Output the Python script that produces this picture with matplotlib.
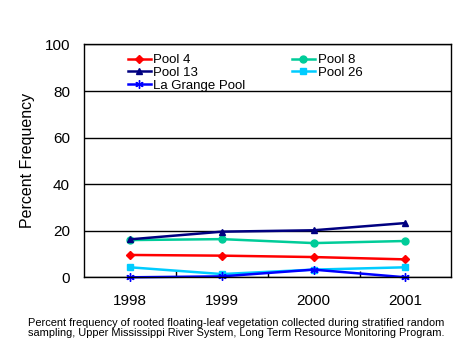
import matplotlib
matplotlib.use("Agg")
import matplotlib.pyplot as plt

years = ["1998", "1999", "2000", "2001"]
pool4 = [9.6, 9.3, 8.7, 7.7]
pool8 = [16.0, 16.4, 14.7, 15.6]
pool13 = [16.3, 19.6, 20.2, 23.3]
pool26 = [4.3, 1.4, 3.3, 4.3]
lagrange = [0.0, 0.4, 3.3, 0.0]
yticks = [0, 20, 40, 60, 80, 100]
caption = ("Percent frequency of rooted floating-leaf vegetation collected during stratified random\n"
           "sampling, Upper Mississippi River System, Long Term Resource Monitoring Program.")

plt.rcParams['font.family'] = ['Liberation Sans', 'DejaVu Sans']

fig = plt.figure(figsize=(4.68, 3.6), dpi=100)
ax = fig.add_axes([0.1795, 0.2297, 0.785, 0.6467])

x = list(range(1, len(years) + 1))
series = [
    ("Pool 4", pool4, "#FF0000", "D", 4),
    ("Pool 8", pool8, "#00CC99", "o", 5),
    ("Pool 13", pool13, "#000080", "^", 5),
    ("Pool 26", pool26, "#00CCFF", "s", 5),
    ("La Grange Pool", lagrange, "#0000FF", (6, 2, 0), 6),
]
handles = {}
for name, vals, col, mk, ms in series:
    h, = ax.plot(x, vals, color=col, marker=mk, markersize=ms, linewidth=1.8,
                 markeredgecolor=col, markerfacecolor=col, label=name, clip_on=False)
    handles[name] = h

ax.set_xlim(0.5, len(years) + 0.5)
ax.set_ylim(0, 100)
ax.set_yticks(yticks)
ax.set_yticklabels([str(v) for v in yticks], fontsize=11)
ax.yaxis.grid(True, color="black", linewidth=1)
ax.set_axisbelow(True)
ax.tick_params(axis='y', length=0, pad=10)

ax.set_xticks([1.5, 2.5, 3.5], minor=False)
ax.set_xticklabels([])
ax.set_xticks(x, minor=True)
ax.set_xticklabels(years, minor=True, fontsize=11)
ax.tick_params(axis='x', which='major', direction='in', length=4, width=1)
ax.tick_params(axis='x', which='minor', length=0, pad=12)

for s in ax.spines.values():
    s.set_linewidth(1)
    s.set_color("black")

ax.set_ylabel("Percent Frequency", fontsize=11.5, labelpad=7)

order = ["Pool 4", "Pool 13", "La Grange Pool", "Pool 8", "Pool 26"]
leg = ax.legend([handles[n] for n in order], order, ncol=2, loc="upper left",
                bbox_to_anchor=(0.09, 1.005), frameon=False, fontsize=9.5,
                handlelength=1.75, handletextpad=0.2, columnspacing=3.5,
                labelspacing=0.05, borderpad=0.3)

fig.text(0.505, 0.089, caption, ha="center", va="center", fontsize=7.9, linespacing=1.1)

fig.savefig("out.png", dpi=100)
